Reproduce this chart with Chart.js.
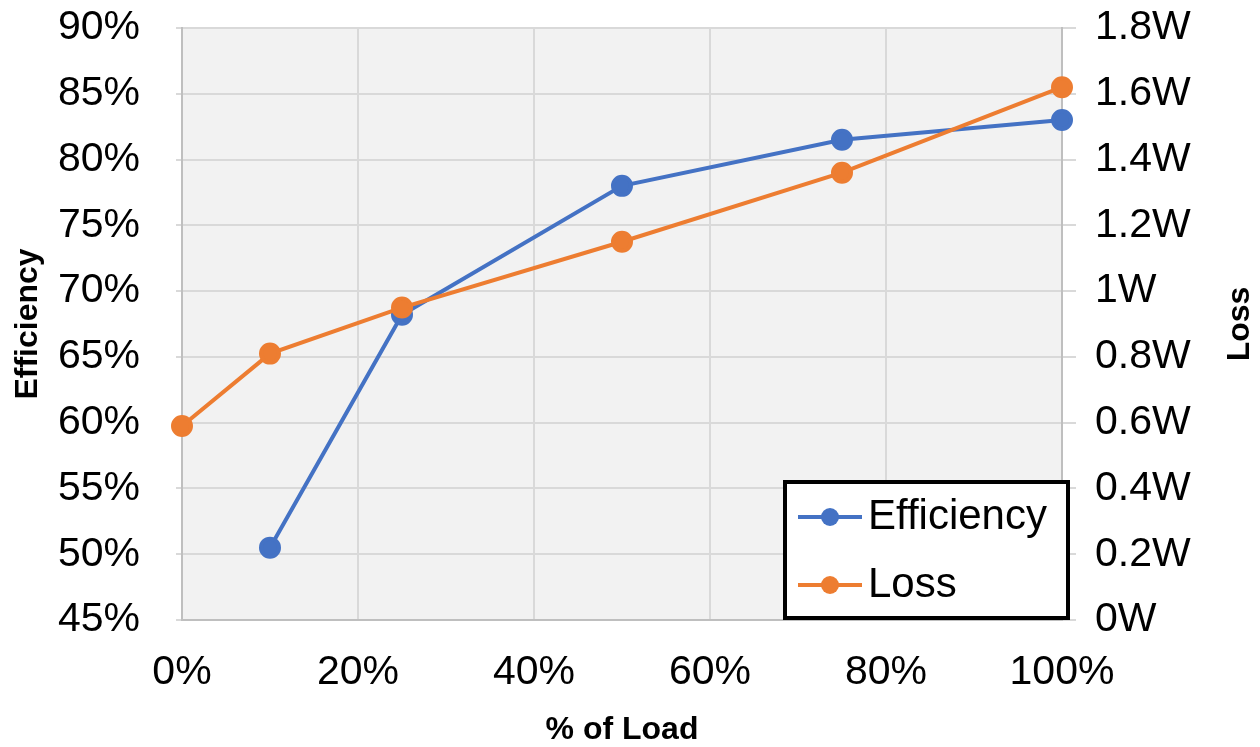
<!DOCTYPE html>
<html>
<head>
<meta charset="utf-8">
<script src="https://cdn.jsdelivr.net/npm/chart.js@4"></script>
<style>
  body { margin: 0; background: #fff; }
  #wrap { width: 1260px; height: 747px; }
</style>
</head>
<body>
<div id="wrap"><canvas id="chart" width="1260" height="747"></canvas></div>
<script>
const loadPct = [0, 10, 25, 50, 75, 100];
const efficiency = [null, 50.5, 68.2, 78.0, 81.5, 83.0];
const loss = [0.59, 0.81, 0.95, 1.15, 1.36, 1.62];
const xTicks = [0, 20, 40, 60, 80, 100];

const BLUE = "#4472C4";
const ORANGE = "#ED7D31";
const FONT = "'Liberation Sans', Arial, sans-serif";

function toPoints(values) {
  return loadPct.map(function(x, i) {
    return { x: x, y: values[i] };
  }).filter(function(p) { return p.y !== null; });
}

const plotBg = {
  id: "plotBg",
  beforeDraw: function(chart) {
    const a = chart.chartArea;
    chart.ctx.save();
    chart.ctx.fillStyle = "#f2f2f2";
    chart.ctx.fillRect(a.left, a.top, a.right - a.left, a.bottom - a.top);
    chart.ctx.restore();
  }
};

const boxLegend = {
  id: "boxLegend",
  afterDraw: function(chart) {
    const ctx = chart.ctx;
    const a = chart.chartArea;
    const x0 = a.right - 277, y0 = a.bottom - 138, w = 283, h = 136;
    ctx.save();
    ctx.fillStyle = "#fff";
    ctx.fillRect(x0, y0, w, h);
    ctx.lineWidth = 4;
    ctx.strokeStyle = "#000";
    ctx.strokeRect(x0, y0, w, h);
    const rows = [
      { text: "Efficiency", color: BLUE, y: y0 + 35 },
      { text: "Loss", color: ORANGE, y: y0 + 103 }
    ];
    rows.forEach(function(r) {
      ctx.strokeStyle = r.color;
      ctx.lineWidth = 4;
      ctx.beginPath();
      ctx.moveTo(x0 + 13, r.y);
      ctx.lineTo(x0 + 77, r.y);
      ctx.stroke();
      ctx.fillStyle = r.color;
      ctx.beginPath();
      ctx.arc(x0 + 45, r.y, 9, 0, Math.PI * 2);
      ctx.fill();
      ctx.fillStyle = "#000";
      ctx.font = "42px " + FONT;
      ctx.textBaseline = "middle";
      ctx.textAlign = "left";
      ctx.fillText(r.text, x0 + 83, r.y);
    });

    // right axis title, reading bottom to top like the left one
    ctx.save();
    ctx.translate(1240, (a.top + a.bottom) / 2);
    ctx.rotate(-Math.PI / 2);
    ctx.font = "bold 32px " + FONT;
    ctx.textAlign = "center";
    ctx.textBaseline = "middle";
    ctx.fillText("Loss", 0, 0);
    ctx.restore();
    ctx.restore();
  }
};

new Chart(document.getElementById("chart"), {
  type: "line",
  data: {
    datasets: [{
      label: "Efficiency",
      data: toPoints(efficiency),
      yAxisID: "y",
      borderColor: BLUE,
      backgroundColor: BLUE,
      borderWidth: 4,
      pointRadius: 9,
      pointHoverRadius: 9,
      tension: 0,
      clip: false,
      order: 1
    }, {
      label: "Loss",
      data: toPoints(loss),
      yAxisID: "y1",
      borderColor: ORANGE,
      backgroundColor: ORANGE,
      borderWidth: 4,
      pointRadius: 9,
      pointHoverRadius: 9,
      tension: 0,
      clip: false,
      order: 0
    }]
  },
  options: {
    responsive: false,
    animation: false,
    layout: { padding: { top: 28, left: 0, right: 0, bottom: 0 } },
    plugins: {
      legend: { display: false },
      tooltip: { enabled: false }
    },
    scales: {
      x: {
        type: "linear",
        min: 0,
        max: 100,
        afterBuildTicks: function(axis) {
          axis.ticks = xTicks.map(function(v) { return { value: v }; });
        },
        afterFit: function(axis) { axis.height = 127; },
        grid: { color: "#d9d9d9", lineWidth: 2, drawTicks: false },
        border: { color: "#bfbfbf", width: 2 },
        ticks: {
          color: "#000",
          font: { family: FONT, size: 41 },
          padding: 28,
          maxRotation: 0,
          callback: function(v) { return v + "%"; }
        },
        title: {
          display: true,
          text: "% of Load",
          color: "#000",
          font: { family: FONT, size: 32, weight: "bold" },
          padding: { top: 0, bottom: -2 }
        }
      },
      y: {
        position: "left",
        min: 45,
        max: 90,
        afterFit: function(axis) {
          axis.width = 182;
          axis.paddingTop = 0;
          axis.paddingBottom = 0;
        },
        grid: { color: "#d9d9d9", lineWidth: 2, tickLength: 6 },
        border: { color: "#bfbfbf", width: 2 },
        ticks: {
          stepSize: 5,
          color: "#000",
          font: { family: FONT, size: 41 },
          padding: 36,
          callback: function(v) { return v + "%"; }
        },
        title: {
          display: true,
          text: "Efficiency",
          color: "#000",
          font: { family: FONT, size: 32, weight: "bold" },
          padding: { top: 9, bottom: 0 }
        }
      },
      y1: {
        position: "right",
        min: 0,
        max: 1.8,
        afterFit: function(axis) {
          axis.width = 198;
          axis.paddingTop = 0;
          axis.paddingBottom = 0;
        },
        grid: { color: "#d9d9d9", lineWidth: 2, drawOnChartArea: false, tickLength: 14 },
        border: { color: "#bfbfbf", width: 2 },
        ticks: {
          stepSize: 0.2,
          color: "#000",
          font: { family: FONT, size: 41 },
          padding: 19,
          callback: function(v) { return Number(v.toFixed(1)) + "W"; }
        }
      }
    }
  },
  plugins: [plotBg, boxLegend]
});
</script>
</body>
</html>
